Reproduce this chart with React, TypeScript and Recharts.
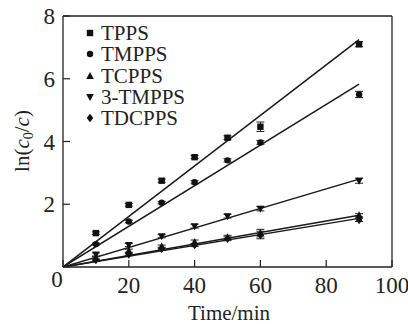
import React from 'react'
import { ComposedChart, XAxis, YAxis, Scatter, Line, ErrorBar, ReferenceLine, Legend } from 'recharts'

const times = [10, 20, 30, 40, 50, 60, 90]
const seriesNames = ['TPPS', 'TMPPS', 'TCPPS', '3-TMPPS', 'TDCPPS']
const markers = ['square', 'circle', 'up', 'down', 'diamond']
const values = [
  [1.08, 1.98, 2.75, 3.5, 4.12, 4.47, 7.1],
  [0.73, 1.45, 2.05, 2.7, 3.4, 3.97, 5.5],
  [0.28, 0.52, 0.65, 0.8, 0.95, 1.08, 1.65],
  [0.4, 0.7, 0.98, 1.3, 1.62, 1.86, 2.75],
  [0.22, 0.4, 0.58, 0.7, 0.9, 1.02, 1.5],
]
const errors = [
  [0.04, 0.04, 0.05, 0.05, 0.06, 0.15, 0.08],
  [0.03, 0.04, 0.04, 0.05, 0.05, 0.06, 0.1],
  [0.05, 0.05, 0.05, 0.06, 0.06, 0.12, 0.05],
  [0.05, 0.05, 0.05, 0.06, 0.06, 0.07, 0.08],
  [0.04, 0.04, 0.05, 0.05, 0.06, 0.12, 0.05],
]
// linear fits through the origin, value at t = 90
const fitEnds = [7.25, 5.83, 1.65, 2.8, 1.55]
const xTicks = [0, 20, 40, 60, 80, 100]
const yTicks = [0, 2, 4, 6, 8]

const FONT = "'Liberation Serif', 'Times New Roman', Times, serif"

function Marker({ kind, cx, cy }: { kind: string; cx: number; cy: number }) {
  const s = 3.2
  if (kind === 'square') return <rect x={cx - s} y={cy - s} width={2 * s} height={2 * s} fill='#111' />
  if (kind === 'circle') return <circle cx={cx} cy={cy} r={s} fill='#111' />
  if (kind === 'up') return <path d={`M${cx},${cy - 4} L${cx + 3.8},${cy + 3} L${cx - 3.8},${cy + 3} Z`} fill='#111' />
  if (kind === 'down') return <path d={`M${cx},${cy + 4} L${cx + 3.8},${cy - 3} L${cx - 3.8},${cy - 3} Z`} fill='#111' />
  return <path d={`M${cx},${cy - 4.2} L${cx + 3.3},${cy} L${cx},${cy + 4.2} L${cx - 3.3},${cy} Z`} fill='#111' />
}

const XTick = (props: any) => {
  const { x, y, payload } = props
  const zero = payload.value === 0
  return (
    <text x={zero ? x - 6 : x} y={zero ? y - 6 : y} dy='0.71em' textAnchor='middle' style={{ fontFamily: FONT }} fontSize={23} fill='#222'>
      {payload.value}
    </text>
  )
}

const YTick = (props: any) => {
  const { x, y, payload } = props
  if (payload.value === 0) return <g />
  return (
    <text x={x} y={y} dy='0.355em' textAnchor='end' style={{ fontFamily: FONT }} fontSize={23} fill='#222'>
      {payload.value}
    </text>
  )
}

const YLabel = () => (
  <text x={29} y={141} transform='rotate(-90 29 141)' textAnchor='middle' style={{ fontFamily: FONT }} fontSize={21} fill='#222'>
    ln(<tspan fontStyle='italic'>c</tspan>
    <tspan fontSize={14} dy={4}>0</tspan>
    <tspan dy={-4}>/</tspan>
    <tspan fontStyle='italic'>c</tspan>)
  </text>
)

const XLabel = () => (
  <text x={229} y={320} textAnchor='middle' style={{ fontFamily: FONT }} fontSize={21} fill='#222'>
    Time/min
  </text>
)

const LegendBox = () => (
  <div style={{ fontFamily: FONT, fontSize: 21, color: '#222' }}>
    {seriesNames.map((name, i) => (
      <div key={name} style={{ display: 'flex', alignItems: 'center', height: 21.3 }}>
        <svg width={10} height={10} style={{ marginRight: 6 }}>
          <Marker kind={markers[i]} cx={5} cy={5} />
        </svg>
        <span style={{ display: 'block', height: 20, lineHeight: '20px', overflow: 'visible' }}>{name}</span>
      </div>
    ))}
  </div>
)

export default function App() {
  const points = seriesNames.map((_, i) => times.map((t, j) => ({ x: t, y: values[i][j], err: errors[i][j] })))
  const fits = fitEnds.map((v) => [{ x: 0, y: 0 }, { x: 90, y: v }])

  return (
    <div style={{ position: 'absolute', left: 0, top: 0, background: '#fff', fontFamily: FONT }}>
      <ComposedChart width={408} height={324} margin={{ top: 16, right: 16, left: 0, bottom: 0 }}>
        <XAxis
          type='number'
          dataKey='x'
          domain={[0, 100]}
          ticks={xTicks}
          height={57}
          axisLine={{ stroke: '#222', strokeWidth: 1.3 }}
          tickLine={{ stroke: '#222', strokeWidth: 1.2 }}
          tickSize={-7}
          tickMargin={17}
          tick={<XTick />}
          label={<XLabel />}
          allowDataOverflow
        />
        <YAxis
          type='number'
          dataKey='y'
          domain={[0, 8]}
          ticks={yTicks}
          width={63}
          axisLine={{ stroke: '#222', strokeWidth: 1.3 }}
          tickLine={{ stroke: '#222', strokeWidth: 1.2 }}
          tickSize={-7}
          tickMargin={15}
          tick={<YTick />}
          label={<YLabel />}
          allowDataOverflow
        />
        <ReferenceLine y={8} stroke='#222' strokeWidth={1.3} />
        <ReferenceLine x={100} stroke='#222' strokeWidth={1.3} />
        {fits.map((f, i) => (
          <Line
            key={'fit' + i}
            data={f}
            dataKey='y'
            stroke='#1a1a1a'
            strokeWidth={1.5}
            dot={false}
            legendType='none'
            isAnimationActive={false}
          />
        ))}
        {points.map((p, i) => (
          <Scatter
            key={seriesNames[i]}
            name={seriesNames[i]}
            data={p}
            fill='#111'
            shape={(sp: any) => <Marker kind={markers[i]} cx={sp.cx} cy={sp.cy} />}
            isAnimationActive={false}
          >
            <ErrorBar dataKey='err' direction='y' width={4} stroke='#222' strokeWidth={1} />
          </Scatter>
        ))}
        <Legend
          layout='vertical'
          align='center'
          verticalAlign='middle'
          content={<LegendBox />}
          wrapperStyle={{ left: 85, top: 22.5, width: 'auto' }}
        />
      </ComposedChart>
    </div>
  )
}
